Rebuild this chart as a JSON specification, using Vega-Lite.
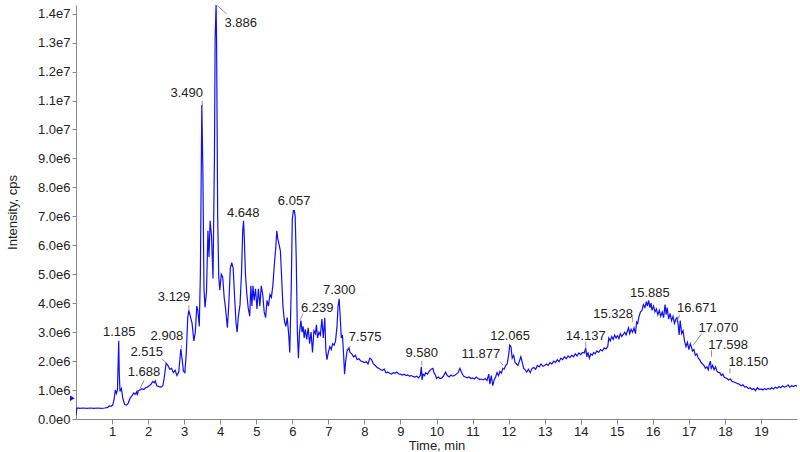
{
  "$schema": "https://vega.github.io/schema/vega-lite/v6.json",
  "width": 721,
  "height": 414,
  "autosize": {"type": "none"},
  "padding": {"left": 76, "top": 5, "right": 3, "bottom": 33},
  "background": "white",
  "config": {
    "view": {"stroke": null},
    "font": "Liberation Sans",
    "axis": {"labelFont": "Liberation Sans", "titleFont": "Liberation Sans", "grid": false}
  },
  "datasets": {
    "trace": [
      {"time":0.00,"intensity":0.12},{"time":0.02,"intensity":0.36},{"time":0.05,"intensity":0.38},{"time":0.1,"intensity":0.37},{"time":0.2,"intensity":0.38},{"time":0.3,"intensity":0.37},{"time":0.4,"intensity":0.38},{"time":0.5,"intensity":0.37},{"time":0.6,"intensity":0.38},{"time":0.7,"intensity":0.37},{"time":0.8,"intensity":0.38},{"time":0.88,"intensity":0.40},{"time":0.92,"intensity":0.45},{"time":0.97,"intensity":0.44},{"time":1.02,"intensity":0.48},{"time":1.06,"intensity":0.7},{"time":1.09,"intensity":1.0},{"time":1.12,"intensity":0.88},{"time":1.15,"intensity":1.0},{"time":1.185,"intensity":2.7},{"time":1.2,"intensity":1.6},{"time":1.22,"intensity":0.95},{"time":1.26,"intensity":1.05},{"time":1.3,"intensity":0.7},{"time":1.35,"intensity":0.5},{"time":1.4,"intensity":0.48},{"time":1.45,"intensity":0.55},{"time":1.5,"intensity":0.72},{"time":1.55,"intensity":0.8},{"time":1.6,"intensity":0.9},{"time":1.64,"intensity":0.85},{"time":1.688,"intensity":0.95},{"time":1.7,"intensity":0.82},{"time":1.73,"intensity":0.98},{"time":1.78,"intensity":1.0},{"time":1.83,"intensity":1.05},{"time":1.88,"intensity":1.02},{"time":1.93,"intensity":1.08},{"time":1.98,"intensity":1.1},{"time":2.03,"intensity":1.15},{"time":2.08,"intensity":1.2},{"time":2.13,"intensity":1.3},{"time":2.17,"intensity":1.25},{"time":2.2,"intensity":1.32},{"time":2.24,"intensity":1.15},{"time":2.3,"intensity":1.12},{"time":2.36,"intensity":1.1},{"time":2.41,"intensity":1.15},{"time":2.45,"intensity":1.45},{"time":2.5,"intensity":1.92},{"time":2.55,"intensity":1.85},{"time":2.6,"intensity":1.72},{"time":2.65,"intensity":1.75},{"time":2.7,"intensity":1.6},{"time":2.75,"intensity":1.68},{"time":2.8,"intensity":1.5},{"time":2.85,"intensity":1.62},{"time":2.908,"intensity":2.42},{"time":2.94,"intensity":2.1},{"time":2.98,"intensity":1.65},{"time":3.02,"intensity":1.6},{"time":3.06,"intensity":2.3},{"time":3.1,"intensity":3.5},{"time":3.129,"intensity":3.75},{"time":3.17,"intensity":3.55},{"time":3.22,"intensity":3.3},{"time":3.27,"intensity":2.7},{"time":3.31,"intensity":3.0},{"time":3.35,"intensity":3.9},{"time":3.38,"intensity":3.75},{"time":3.42,"intensity":3.2},{"time":3.45,"intensity":5.0},{"time":3.49,"intensity":10.85},{"time":3.52,"intensity":8.5},{"time":3.55,"intensity":4.5},{"time":3.58,"intensity":3.85},{"time":3.62,"intensity":4.4},{"time":3.66,"intensity":6.5},{"time":3.69,"intensity":5.6},{"time":3.72,"intensity":6.85},{"time":3.76,"intensity":6.3},{"time":3.8,"intensity":4.85},{"time":3.84,"intensity":9.0},{"time":3.86,"intensity":13.2},{"time":3.886,"intensity":14.3},{"time":3.9,"intensity":13.0},{"time":3.93,"intensity":7.0},{"time":3.96,"intensity":4.9},{"time":3.99,"intensity":4.45},{"time":4.03,"intensity":5.0},{"time":4.07,"intensity":4.9},{"time":4.11,"intensity":4.2},{"time":4.15,"intensity":3.8},{"time":4.2,"intensity":3.15},{"time":4.24,"intensity":4.0},{"time":4.28,"intensity":5.2},{"time":4.32,"intensity":5.4},{"time":4.36,"intensity":5.2},{"time":4.4,"intensity":4.2},{"time":4.44,"intensity":3.3},{"time":4.47,"intensity":3.0},{"time":4.5,"intensity":3.5},{"time":4.55,"intensity":3.95},{"time":4.59,"intensity":5.0},{"time":4.625,"intensity":6.5},{"time":4.648,"intensity":6.85},{"time":4.67,"intensity":6.2},{"time":4.7,"intensity":5.0},{"time":4.74,"intensity":4.3},{"time":4.78,"intensity":3.8},{"time":4.82,"intensity":3.55},{"time":4.85,"intensity":4.6},{"time":4.88,"intensity":3.9},{"time":4.91,"intensity":4.6},{"time":4.94,"intensity":4.1},{"time":4.98,"intensity":4.5},{"time":5.02,"intensity":3.8},{"time":5.06,"intensity":4.5},{"time":5.1,"intensity":3.9},{"time":5.14,"intensity":4.6},{"time":5.18,"intensity":4.3},{"time":5.22,"intensity":3.7},{"time":5.26,"intensity":3.5},{"time":5.3,"intensity":4.1},{"time":5.34,"intensity":3.9},{"time":5.38,"intensity":4.3},{"time":5.42,"intensity":4.2},{"time":5.46,"intensity":4.6},{"time":5.5,"intensity":5.3},{"time":5.54,"intensity":5.9},{"time":5.57,"intensity":6.5},{"time":5.6,"intensity":6.2},{"time":5.63,"intensity":6.05},{"time":5.67,"intensity":5.8},{"time":5.7,"intensity":5.0},{"time":5.74,"intensity":3.9},{"time":5.78,"intensity":3.4},{"time":5.82,"intensity":3.2},{"time":5.86,"intensity":3.5},{"time":5.9,"intensity":2.9},{"time":5.93,"intensity":2.3},{"time":5.97,"intensity":4.5},{"time":6.0,"intensity":6.9},{"time":6.03,"intensity":7.2},{"time":6.057,"intensity":7.2},{"time":6.08,"intensity":7.0},{"time":6.11,"intensity":5.5},{"time":6.14,"intensity":3.0},{"time":6.17,"intensity":2.1},{"time":6.2,"intensity":3.0},{"time":6.239,"intensity":3.4},{"time":6.27,"intensity":3.0},{"time":6.3,"intensity":3.2},{"time":6.33,"intensity":2.8},{"time":6.36,"intensity":3.1},{"time":6.4,"intensity":2.75},{"time":6.44,"intensity":3.15},{"time":6.48,"intensity":2.6},{"time":6.52,"intensity":3.0},{"time":6.56,"intensity":2.3},{"time":6.6,"intensity":3.05},{"time":6.64,"intensity":2.95},{"time":6.67,"intensity":3.25},{"time":6.7,"intensity":2.8},{"time":6.74,"intensity":3.0},{"time":6.78,"intensity":2.9},{"time":6.82,"intensity":3.45},{"time":6.86,"intensity":2.8},{"time":6.9,"intensity":3.5},{"time":6.93,"intensity":2.4},{"time":6.96,"intensity":2.05},{"time":7.0,"intensity":2.3},{"time":7.04,"intensity":2.5},{"time":7.08,"intensity":2.4},{"time":7.12,"intensity":2.6},{"time":7.16,"intensity":2.55},{"time":7.2,"intensity":2.7},{"time":7.24,"intensity":3.2},{"time":7.27,"intensity":3.9},{"time":7.3,"intensity":4.15},{"time":7.33,"intensity":3.5},{"time":7.36,"intensity":2.8},{"time":7.39,"intensity":2.9},{"time":7.42,"intensity":2.3},{"time":7.45,"intensity":1.55},{"time":7.48,"intensity":2.0},{"time":7.52,"intensity":2.35},{"time":7.575,"intensity":2.45},{"time":7.6,"intensity":2.3},{"time":7.65,"intensity":2.25},{"time":7.7,"intensity":2.15},{"time":7.75,"intensity":2.2},{"time":7.8,"intensity":2.05},{"time":7.85,"intensity":2.08},{"time":7.9,"intensity":2.0},{"time":7.95,"intensity":1.98},{"time":8.0,"intensity":1.95},{"time":8.05,"intensity":1.98},{"time":8.1,"intensity":1.9},{"time":8.15,"intensity":2.1},{"time":8.2,"intensity":2.05},{"time":8.25,"intensity":1.9},{"time":8.3,"intensity":1.85},{"time":8.35,"intensity":1.78},{"time":8.4,"intensity":1.75},{"time":8.45,"intensity":1.7},{"time":8.5,"intensity":1.68},{"time":8.55,"intensity":1.72},{"time":8.6,"intensity":1.6},{"time":8.65,"intensity":1.62},{"time":8.7,"intensity":1.58},{"time":8.75,"intensity":1.55},{"time":8.8,"intensity":1.6},{"time":8.85,"intensity":1.58},{"time":8.9,"intensity":1.62},{"time":8.95,"intensity":1.56},{"time":9.0,"intensity":1.55},{"time":9.05,"intensity":1.52},{"time":9.1,"intensity":1.55},{"time":9.15,"intensity":1.5},{"time":9.2,"intensity":1.52},{"time":9.25,"intensity":1.48},{"time":9.3,"intensity":1.5},{"time":9.35,"intensity":1.47},{"time":9.4,"intensity":1.45},{"time":9.45,"intensity":1.48},{"time":9.5,"intensity":1.42},{"time":9.55,"intensity":1.5},{"time":9.58,"intensity":1.8},{"time":9.6,"intensity":1.35},{"time":9.63,"intensity":1.55},{"time":9.67,"intensity":1.5},{"time":9.7,"intensity":1.6},{"time":9.75,"intensity":1.55},{"time":9.8,"intensity":1.65},{"time":9.85,"intensity":1.72},{"time":9.9,"intensity":1.75},{"time":9.93,"intensity":1.6},{"time":9.97,"intensity":1.52},{"time":10.0,"intensity":1.4},{"time":10.05,"intensity":1.45},{"time":10.1,"intensity":1.4},{"time":10.15,"intensity":1.42},{"time":10.2,"intensity":1.5},{"time":10.25,"intensity":1.62},{"time":10.3,"intensity":1.5},{"time":10.35,"intensity":1.45},{"time":10.4,"intensity":1.52},{"time":10.45,"intensity":1.48},{"time":10.5,"intensity":1.5},{"time":10.55,"intensity":1.55},{"time":10.6,"intensity":1.6},{"time":10.65,"intensity":1.75},{"time":10.7,"intensity":1.6},{"time":10.75,"intensity":1.48},{"time":10.8,"intensity":1.45},{"time":10.85,"intensity":1.42},{"time":10.9,"intensity":1.45},{"time":10.95,"intensity":1.4},{"time":11.0,"intensity":1.42},{"time":11.05,"intensity":1.38},{"time":11.1,"intensity":1.45},{"time":11.15,"intensity":1.4},{"time":11.2,"intensity":1.36},{"time":11.25,"intensity":1.38},{"time":11.3,"intensity":1.35},{"time":11.35,"intensity":1.4},{"time":11.4,"intensity":1.33},{"time":11.45,"intensity":1.55},{"time":11.48,"intensity":1.2},{"time":11.52,"intensity":1.5},{"time":11.56,"intensity":1.15},{"time":11.6,"intensity":1.35},{"time":11.64,"intensity":1.45},{"time":11.68,"intensity":1.6},{"time":11.72,"intensity":1.5},{"time":11.76,"intensity":1.65},{"time":11.8,"intensity":1.58},{"time":11.84,"intensity":1.75},{"time":11.877,"intensity":1.72},{"time":11.92,"intensity":1.85},{"time":11.96,"intensity":1.9},{"time":12.0,"intensity":2.2},{"time":12.03,"intensity":2.55},{"time":12.065,"intensity":2.5},{"time":12.1,"intensity":2.1},{"time":12.14,"intensity":2.2},{"time":12.18,"intensity":1.95},{"time":12.22,"intensity":1.9},{"time":12.26,"intensity":1.85},{"time":12.3,"intensity":2.0},{"time":12.34,"intensity":2.15},{"time":12.38,"intensity":1.95},{"time":12.42,"intensity":1.75},{"time":12.46,"intensity":1.7},{"time":12.5,"intensity":1.62},{"time":12.55,"intensity":1.72},{"time":12.6,"intensity":1.6},{"time":12.65,"intensity":1.75},{"time":12.7,"intensity":1.78},{"time":12.75,"intensity":1.72},{"time":12.8,"intensity":1.85},{"time":12.85,"intensity":1.8},{"time":12.9,"intensity":1.9},{"time":12.95,"intensity":1.82},{"time":13.0,"intensity":1.85},{"time":13.05,"intensity":1.9},{"time":13.1,"intensity":1.85},{"time":13.15,"intensity":1.95},{"time":13.2,"intensity":1.9},{"time":13.25,"intensity":2.0},{"time":13.3,"intensity":1.95},{"time":13.35,"intensity":2.05},{"time":13.4,"intensity":1.98},{"time":13.45,"intensity":2.1},{"time":13.5,"intensity":2.05},{"time":13.55,"intensity":2.15},{"time":13.6,"intensity":2.08},{"time":13.65,"intensity":2.18},{"time":13.7,"intensity":2.12},{"time":13.75,"intensity":2.2},{"time":13.8,"intensity":2.15},{"time":13.85,"intensity":2.25},{"time":13.9,"intensity":2.18},{"time":13.95,"intensity":2.28},{"time":14.0,"intensity":2.22},{"time":14.05,"intensity":2.3},{"time":14.1,"intensity":2.28},{"time":14.137,"intensity":2.45},{"time":14.17,"intensity":2.15},{"time":14.2,"intensity":2.3},{"time":14.24,"intensity":2.1},{"time":14.28,"intensity":2.25},{"time":14.32,"intensity":2.2},{"time":14.36,"intensity":2.3},{"time":14.4,"intensity":2.25},{"time":14.45,"intensity":2.35},{"time":14.5,"intensity":2.3},{"time":14.55,"intensity":2.4},{"time":14.6,"intensity":2.35},{"time":14.65,"intensity":2.45},{"time":14.7,"intensity":2.42},{"time":14.75,"intensity":2.5},{"time":14.78,"intensity":2.8},{"time":14.82,"intensity":2.7},{"time":14.86,"intensity":2.85},{"time":14.9,"intensity":2.75},{"time":14.94,"intensity":2.9},{"time":14.98,"intensity":2.8},{"time":15.02,"intensity":2.88},{"time":15.06,"intensity":2.78},{"time":15.1,"intensity":2.95},{"time":15.14,"intensity":2.85},{"time":15.18,"intensity":2.92},{"time":15.22,"intensity":3.0},{"time":15.26,"intensity":2.9},{"time":15.3,"intensity":3.05},{"time":15.328,"intensity":3.15},{"time":15.36,"intensity":2.95},{"time":15.4,"intensity":3.1},{"time":15.44,"intensity":3.0},{"time":15.48,"intensity":3.15},{"time":15.52,"intensity":2.95},{"time":15.55,"intensity":3.35},{"time":15.58,"intensity":3.3},{"time":15.62,"intensity":3.55},{"time":15.66,"intensity":3.7},{"time":15.7,"intensity":3.75},{"time":15.74,"intensity":3.95},{"time":15.78,"intensity":3.85},{"time":15.82,"intensity":4.05},{"time":15.85,"intensity":3.9},{"time":15.885,"intensity":4.1},{"time":15.92,"intensity":3.85},{"time":15.95,"intensity":4.0},{"time":15.98,"intensity":3.75},{"time":16.02,"intensity":3.9},{"time":16.06,"intensity":3.7},{"time":16.1,"intensity":3.8},{"time":16.14,"intensity":3.6},{"time":16.18,"intensity":3.75},{"time":16.22,"intensity":3.55},{"time":16.26,"intensity":3.7},{"time":16.3,"intensity":3.5},{"time":16.34,"intensity":3.95},{"time":16.37,"intensity":3.6},{"time":16.4,"intensity":3.85},{"time":16.44,"intensity":3.45},{"time":16.48,"intensity":3.65},{"time":16.52,"intensity":3.4},{"time":16.56,"intensity":3.55},{"time":16.6,"intensity":3.3},{"time":16.64,"intensity":3.45},{"time":16.671,"intensity":3.5},{"time":16.7,"intensity":3.3},{"time":16.73,"intensity":2.9},{"time":16.76,"intensity":3.4},{"time":16.8,"intensity":2.95},{"time":16.84,"intensity":3.05},{"time":16.88,"intensity":2.7},{"time":16.92,"intensity":2.5},{"time":16.96,"intensity":2.65},{"time":17.0,"intensity":2.4},{"time":17.04,"intensity":2.6},{"time":17.07,"intensity":2.5},{"time":17.1,"intensity":2.35},{"time":17.14,"intensity":2.4},{"time":17.18,"intensity":2.2},{"time":17.22,"intensity":2.25},{"time":17.26,"intensity":2.1},{"time":17.3,"intensity":2.05},{"time":17.34,"intensity":1.95},{"time":17.38,"intensity":1.9},{"time":17.42,"intensity":1.85},{"time":17.46,"intensity":1.75},{"time":17.5,"intensity":1.8},{"time":17.54,"intensity":1.7},{"time":17.57,"intensity":1.9},{"time":17.598,"intensity":2.0},{"time":17.62,"intensity":1.75},{"time":17.66,"intensity":1.85},{"time":17.7,"intensity":1.7},{"time":17.74,"intensity":1.8},{"time":17.78,"intensity":1.65},{"time":17.82,"intensity":1.6},{"time":17.86,"intensity":1.6},{"time":17.9,"intensity":1.5},{"time":17.94,"intensity":1.55},{"time":17.98,"intensity":1.45},{"time":18.02,"intensity":1.42},{"time":18.06,"intensity":1.4},{"time":18.1,"intensity":1.35},{"time":18.15,"intensity":1.38},{"time":18.2,"intensity":1.3},{"time":18.25,"intensity":1.28},{"time":18.3,"intensity":1.25},{"time":18.35,"intensity":1.22},{"time":18.4,"intensity":1.2},{"time":18.45,"intensity":1.15},{"time":18.5,"intensity":1.18},{"time":18.55,"intensity":1.1},{"time":18.6,"intensity":1.12},{"time":18.65,"intensity":1.05},{"time":18.7,"intensity":1.08},{"time":18.75,"intensity":1.02},{"time":18.8,"intensity":1.05},{"time":18.85,"intensity":0.98},{"time":18.9,"intensity":1.08},{"time":18.95,"intensity":1.02},{"time":19.0,"intensity":1.04},{"time":19.05,"intensity":1.0},{"time":19.1,"intensity":1.05},{"time":19.15,"intensity":1.02},{"time":19.2,"intensity":1.06},{"time":19.25,"intensity":1.03},{"time":19.3,"intensity":1.08},{"time":19.35,"intensity":1.04},{"time":19.4,"intensity":1.1},{"time":19.45,"intensity":1.06},{"time":19.5,"intensity":1.12},{"time":19.55,"intensity":1.08},{"time":19.6,"intensity":1.15},{"time":19.65,"intensity":1.1},{"time":19.7,"intensity":1.12},{"time":19.75,"intensity":1.18},{"time":19.8,"intensity":1.1},{"time":19.85,"intensity":1.15},{"time":19.9,"intensity":1.12},{"time":19.95,"intensity":1.16},{"time":20.0,"intensity":1.13}
    ],
    "labels": [
      {"label":"1.185","time":1.20,"intensity":3.01},
      {"label":"1.688","time":1.886,"intensity":1.63},
      {"label":"2.515","time":1.96,"intensity":2.32},
      {"label":"2.908","time":2.52,"intensity":2.87},
      {"label":"3.129","time":2.72,"intensity":4.2},
      {"label":"3.490","time":3.07,"intensity":11.25},
      {"label":"3.886","time":4.57,"intensity":13.67},
      {"label":"4.648","time":4.64,"intensity":7.13},
      {"label":"6.057","time":6.05,"intensity":7.53},
      {"label":"6.239","time":6.69,"intensity":3.85},
      {"label":"7.300","time":7.30,"intensity":4.45},
      {"label":"7.575","time":8.02,"intensity":2.82},
      {"label":"9.580","time":9.59,"intensity":2.29},
      {"label":"11.877","time":11.23,"intensity":2.24},
      {"label":"12.065","time":12.04,"intensity":2.86},
      {"label":"14.137","time":14.14,"intensity":2.86},
      {"label":"15.328","time":14.9,"intensity":3.64},
      {"label":"15.885","time":15.92,"intensity":4.36},
      {"label":"16.671","time":17.22,"intensity":3.82},
      {"label":"17.070","time":17.82,"intensity":3.16},
      {"label":"17.598","time":18.09,"intensity":2.57},
      {"label":"18.150","time":18.65,"intensity":1.96}
    ],
    "leaders": [
      {"time":1.73,"intensity":0.94,"time2":1.89,"intensity2":1.34},
      {"time":2.38,"intensity":2.07,"time2":2.53,"intensity2":1.92},
      {"time":2.93,"intensity":2.55,"time2":2.93,"intensity2":2.44},
      {"time":3.13,"intensity":3.93,"time2":3.13,"intensity2":3.76},
      {"time":3.5,"intensity":11.0,"time2":3.5,"intensity2":10.8},
      {"time":3.92,"intensity":14.28,"time2":4.18,"intensity2":13.99},
      {"time":6.21,"intensity":3.41,"time2":6.3,"intensity2":3.64},
      {"time":7.49,"intensity":2.38,"time2":7.62,"intensity2":2.52},
      {"time":9.59,"intensity":2.01,"time2":9.59,"intensity2":1.86},
      {"time":11.76,"intensity":1.98,"time2":11.85,"intensity2":1.86},
      {"time":14.14,"intensity":2.67,"time2":14.14,"intensity2":2.4},
      {"time":15.44,"intensity":3.53,"time2":15.44,"intensity2":3.36},
      {"time":16.75,"intensity":3.59,"time2":16.66,"intensity2":3.36},
      {"time":17.36,"intensity":2.95,"time2":17.12,"intensity2":2.55},
      {"time":17.63,"intensity":2.38,"time2":17.63,"intensity2":2.15},
      {"time":18.14,"intensity":1.75,"time2":18.14,"intensity2":1.57}
    ],
    "marker": [
      {"time":-0.1,"intensity":0.72}
    ]
  },
  "encoding": {
    "x": {
      "field": "time", "type": "quantitative",
      "scale": {"domain": [0, 20], "nice": false, "zero": false},
      "axis": {
        "title": "Time, min", "values": [1,2,3,4,5,6,7,8,9,10,11,12,13,14,15,16,17,18,19],
        "labelFontSize": 13, "labelColor": "#222", "tickSize": 5, "tickColor": "#888",
        "domainColor": "#888", "labelPadding": 1, "titleFontSize": 13, "labelOverlap": false,
        "titleFontWeight": "normal", "titleColor": "#222", "titlePadding": 1, "labelFlush": false
      }
    },
    "y": {
      "field": "intensity", "type": "quantitative",
      "scale": {"domain": [0, 14.3], "nice": false, "zero": true},
      "axis": {
        "title": "Intensity, cps", "values": [0,1,2,3,4,5,6,7,8,9,10,11,12,13,14], "tickCount": 15,
        "labelExpr": "datum.value == 0 ? '0.0e0' : (datum.value >= 10 ? format(datum.value / 10, '.1f') + 'e7' : format(datum.value, '.1f') + 'e6')",
        "labelFontSize": 13, "labelColor": "#222", "tickSize": 4, "tickColor": "#888",
        "domainColor": "#888", "labelPadding": 2, "titleFontSize": 13, "labelOverlap": false, "labelBound": false,
        "titleFontWeight": "normal", "titleColor": "#222", "titlePadding": 18
      }
    }
  },
  "layer": [
    {
      "data": {"name": "trace"},
      "mark": {"type": "line", "color": "#1010f5", "strokeWidth": 1.2, "clip": true}
    },
    {
      "data": {"name": "leaders"},
      "mark": {"type": "rule", "color": "#777", "strokeWidth": 0.8},
      "encoding": {
        "x2": {"field": "time2"},
        "y2": {"field": "intensity2"}
      }
    },
    {
      "data": {"name": "labels"},
      "mark": {"type": "text", "fontSize": 13, "color": "#222", "align": "center", "baseline": "middle"},
      "encoding": {
        "text": {"field": "label"}
      }
    },
    {
      "data": {"name": "marker"},
      "mark": {"type": "point", "shape": "triangle-right", "filled": true, "color": "#1010f5", "size": 30, "opacity": 1}
    }
  ]
}
